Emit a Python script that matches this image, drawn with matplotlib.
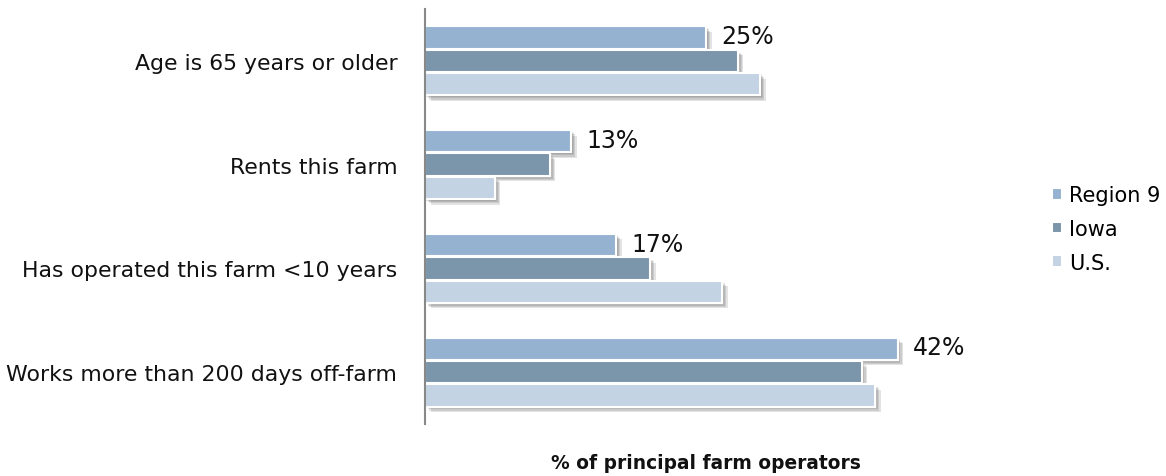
import matplotlib.pyplot as plt
import matplotlib.patheffects as pe
import numpy as np

categories = ["Age is 65 years or older", "Rents this farm",
              "Has operated this farm <10 years", "Works more than 200 days off-farm"]
region9 = [25, 13, 17, 42]
iowa = [27.8, 11.1, 20.0, 38.8]
us = [29.8, 6.2, 26.4, 40.0]
series_names = ["Region 9", "Iowa", "U.S."]
colors = ["#95b3d1", "#7b95ab", "#c3d3e3"]

plt.rcParams["font.family"] = ["DejaVu Sans"]

fig = plt.figure(figsize=(11.66, 4.77), dpi=100)
ax = fig.add_axes([0.3645, 0.109, 0.4825, 0.870])

y = np.arange(len(categories))
h = 0.215
step = 0.225

all_bars = []
for i, (vals, name, c) in enumerate(zip([region9, iowa, us], series_names, colors)):
    bars = ax.barh(y + (i - 1) * step, vals, height=h, color=c, edgecolor="white",
                   linewidth=1.5, label=name)
    all_bars.extend(bars)

# value labels for Region 9 only
for yi, v in zip(y, region9):
    ax.annotate(f"{v:g}%", xy=(v, yi - step), xytext=(11, 1), textcoords="offset points",
                va="center", ha="left", fontsize=17, color="#111111")

ax.set_xlim(0, 50)
ax.set_ylim(3.5, -0.5)
ax.set_yticks(y)
ax.set_yticklabels(categories, fontsize=15.8, color="#111111")
ax.tick_params(axis="y", length=0, pad=20)
ax.set_xticks([])
for s in ["top", "right", "bottom"]:
    ax.spines[s].set_visible(False)
ax.spines["left"].set_color("#888888")
ax.spines["left"].set_linewidth(1.5)

ax.set_xlabel("% of principal farm operators", fontsize=13.4, fontweight="bold",
              color="#111111", labelpad=21)

leg = ax.legend(loc="center left", bbox_to_anchor=(1.115, 0.47), frameon=False,
                fontsize=15, handlelength=0.45, handleheight=0.45, handletextpad=0.35,
                labelspacing=0.65, borderpad=0, borderaxespad=0)

# soft drop shadow under each bar (added after the legend so the swatches stay flat)
shadow = [pe.SimplePatchShadow(offset=(k, -k), shadow_rgbFace="#444444", alpha=0.15)
          for k in (1, 2, 3, 4)] + [pe.Normal()]
for b in all_bars:
    b.set_path_effects(shadow)

plt.savefig("out.png", dpi=100)
